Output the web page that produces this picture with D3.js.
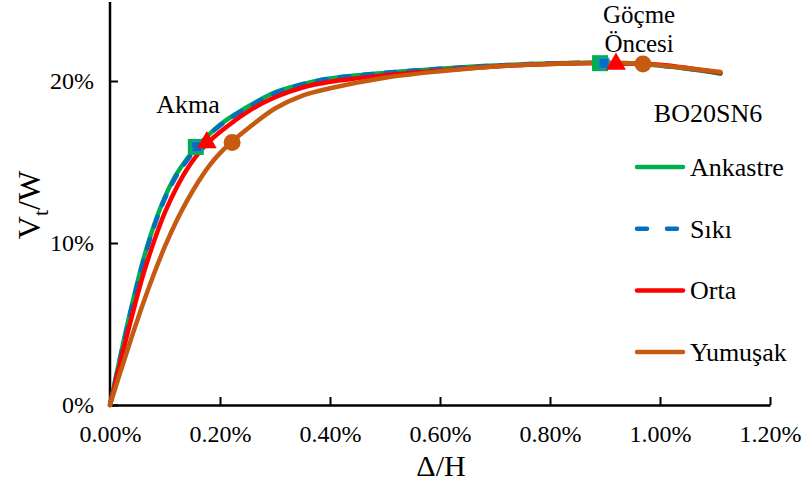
<!DOCTYPE html>
<html>
<head>
<meta charset="utf-8">
<script src="https://cdn.jsdelivr.net/npm/d3@7"></script>
<style>
  body { margin: 0; background: #fff; }
  svg text { font-family: "Liberation Serif", "Times New Roman", serif; fill: #000; }
</style>
</head>
<body>
<div id="chart"></div>
<script>
// drift ratio (%) vs base shear ratio (%)
var xTicks = [0, 0.2, 0.4, 0.6, 0.8, 1.0, 1.2];
var yTicks = [0, 10, 20];

var seriesNames = ["Ankastre", "Sıkı", "Orta", "Yumuşak"];
var seriesColors = ["#00B050", "#0070C0", "#FF0000", "#C55A11"];

var ankastreX = [0, 0.02, 0.04, 0.06, 0.08, 0.10, 0.12, 0.14, 0.16, 0.20, 0.25, 0.30, 0.35, 0.40, 0.50, 0.60, 0.70, 0.80, 0.89, 1.00, 1.11];
var ankastreY = [0, 3.2, 6.2, 8.9, 11.1, 12.85, 14.2, 15.2, 16.0, 17.3, 18.4, 19.3, 19.8, 20.15, 20.5, 20.75, 20.95, 21.08, 21.12, 20.95, 20.45];

var sikiX = [0, 0.02, 0.04, 0.06, 0.08, 0.10, 0.12, 0.14, 0.16, 0.20, 0.25, 0.30, 0.35, 0.40, 0.50, 0.60, 0.70, 0.80, 0.90, 1.00, 1.11];
var sikiY = [0, 3.1, 6.1, 8.8, 11.0, 12.75, 14.1, 15.1, 15.95, 17.25, 18.35, 19.25, 19.8, 20.15, 20.5, 20.75, 20.95, 21.08, 21.12, 20.95, 20.5];

var ortaX = [0, 0.02, 0.04, 0.06, 0.08, 0.10, 0.12, 0.14, 0.16, 0.18, 0.20, 0.25, 0.30, 0.35, 0.40, 0.50, 0.60, 0.70, 0.80, 0.92, 1.00, 1.11];
var ortaY = [0, 2.8, 5.5, 8.0, 10.1, 11.9, 13.35, 14.55, 15.5, 16.25, 16.85, 18.1, 19.0, 19.6, 19.95, 20.35, 20.65, 20.9, 21.05, 21.1, 21.0, 20.5];

var yumusakX = [0, 0.02, 0.04, 0.06, 0.08, 0.10, 0.12, 0.14, 0.16, 0.18, 0.20, 0.22, 0.25, 0.30, 0.35, 0.40, 0.50, 0.60, 0.70, 0.80, 0.90, 0.97, 1.11];
var yumusakY = [0, 2.15, 4.25, 6.25, 8.1, 9.8, 11.3, 12.6, 13.75, 14.75, 15.55, 16.2, 17.05, 18.3, 19.1, 19.55, 20.2, 20.6, 20.9, 21.05, 21.12, 21.05, 20.55];

// marker points: yield (Akma) and pre-collapse (Göçme Öncesi)
var akmaX = [0.156, 0.158, 0.176, 0.222];
var akmaY = [15.93, 15.95, 16.2, 16.2];
var gocmeX = [0.891, 0.898, 0.92, 0.969];
var gocmeY = [21.1, 21.1, 21.05, 21.05];

var legendTitle = "BO20SN6";

var svgWidth = 808, svgHeight = 485;
var margin = { top: 0, right: 38, bottom: 80, left: 110 };
var chart_width = svgWidth - margin.left - margin.right;
var chart_height = svgHeight - margin.top - margin.bottom;

var svg = d3.select("#chart")
    .append("svg")
    .attr("width", svgWidth)
    .attr("height", svgHeight);

var chartGroup = svg.append("g")
    .attr("transform", `translate(${margin.left}, ${margin.top})`);

var xScale = d3.scaleLinear().domain([0, 1.2]).range([0, chart_width]);
var yScale = d3.scaleLinear().domain([0, 25]).range([chart_height, 0]);

// axes with inside ticks
var bottomAxis = d3.axisBottom(xScale)
    .tickValues(xTicks)
    .tickSizeInner(-8).tickSizeOuter(0)
    .tickPadding(25)
    .tickFormat(d => d.toFixed(2) + "%");
var leftAxis = d3.axisLeft(yScale)
    .tickValues(yTicks)
    .tickSizeInner(-8).tickSizeOuter(0)
    .tickPadding(16)
    .tickFormat(d => d + "%");

var xg = chartGroup.append("g")
    .attr("transform", `translate(0, ${chart_height})`)
    .call(bottomAxis);
var yg = chartGroup.append("g").call(leftAxis);

[xg, yg].forEach(function(g) {
    g.select(".domain").attr("stroke", "#000").attr("stroke-width", 2.5);
    g.selectAll(".tick line").attr("stroke", "#000").attr("stroke-width", 2);
    g.selectAll(".tick text")
        .style("font-family", "Liberation Serif")
        .style("font-size", "24px")
        .attr("fill", "#000");
});
yg.select(".domain").attr("d", `M0,${yScale(25) + 2}V${chart_height}`);
xg.selectAll(".tick text").attr("dy", "0.5em");

// series lines
var allX = [ankastreX, sikiX, ortaX, yumusakX];
var allY = [ankastreY, sikiY, ortaY, yumusakY];

var line = d3.line()
    .x(d => xScale(d[0]))
    .y(d => yScale(d[1]))
    .curve(d3.curveCatmullRom.alpha(0.5));

allX.forEach(function(xs, i) {
    var pts = xs.map((x, j) => [x, allY[i][j]]);
    chartGroup.append("path")
        .attr("d", line(pts))
        .attr("fill", "none")
        .attr("stroke", seriesColors[i])
        .attr("stroke-width", 4.5)
        .attr("stroke-linecap", "round")
        .attr("stroke-dasharray", i === 1 ? "10,13" : null);
});

// markers
function drawMarker(g, i, cx, cy) {
    if (i === 0) {
        g.append("rect").attr("x", cx - 8).attr("y", cy - 8).attr("width", 16).attr("height", 16)
            .attr("fill", seriesColors[0]);
    } else if (i === 1) {
        g.append("path").attr("d", d3.symbol().type(d3.symbolDiamond2).size(130)())
            .attr("transform", `translate(${cx},${cy}) rotate(45)`)
            .attr("fill", seriesColors[1]).attr("stroke", "#2E8BDA").attr("stroke-width", 1);
    } else if (i === 2) {
        g.append("path").attr("d", d3.symbol().type(d3.symbolTriangle).size(170)())
            .attr("transform", `translate(${cx},${cy})`)
            .attr("fill", seriesColors[2]);
    } else {
        g.append("circle").attr("cx", cx).attr("cy", cy).attr("r", 8.5)
            .attr("fill", seriesColors[3]);
    }
}
var markerGroup = chartGroup.append("g");
[[akmaX, akmaY], [gocmeX, gocmeY]].forEach(function(set) {
    set[0].forEach(function(x, i) {
        drawMarker(markerGroup, i, xScale(x), yScale(set[1][i]));
    });
});

// annotations
chartGroup.append("text")
    .attr("x", xScale(0.142)).attr("y", 113)
    .attr("text-anchor", "middle")
    .style("font-size", "26px")
    .text("Akma");
var gocme = chartGroup.append("text")
    .attr("x", xScale(0.962)).attr("y", 23)
    .attr("text-anchor", "middle")
    .style("font-size", "25px");
gocme.append("tspan").attr("x", xScale(0.962)).text("Göçme");
gocme.append("tspan").attr("x", xScale(0.962)).attr("dy", 29).text("Öncesi");

// legend
var legend = svg.append("g");
legend.append("text")
    .attr("x", 708).attr("y", 122)
    .attr("text-anchor", "middle")
    .style("font-size", "26px")
    .text(legendTitle);
seriesNames.forEach(function(name, i) {
    var ly = 167 + i * 61.7;
    legend.append("line")
        .attr("x1", 637).attr("x2", 683)
        .attr("y1", ly).attr("y2", ly)
        .attr("stroke", seriesColors[i])
        .attr("stroke-width", 4.5)
        .attr("stroke-linecap", "round")
        .attr("stroke-dasharray", i === 1 ? "10,20" : null);
    legend.append("text")
        .attr("x", 690).attr("y", ly + 9)
        .style("font-size", "26px")
        .text(name);
});

// axis titles
svg.append("text")
    .attr("x", 441).attr("y", 476)
    .attr("text-anchor", "middle")
    .style("font-size", "30px")
    .text("Δ/H");

var yTitle = svg.append("text")
    .attr("transform", "translate(40, 205) rotate(-90)")
    .attr("text-anchor", "middle")
    .style("font-size", "32px");
yTitle.append("tspan").text("V");
yTitle.append("tspan").attr("dy", 8).style("font-size", "22px").text("t");
yTitle.append("tspan").attr("dy", -8).text("/W");
</script>
</body>
</html>
